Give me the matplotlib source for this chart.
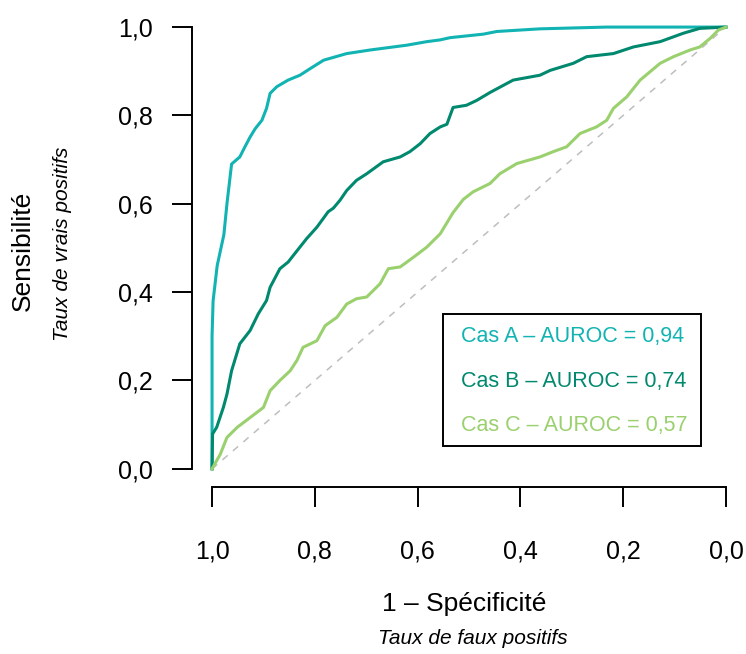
import matplotlib
matplotlib.use("Agg")
import matplotlib.pyplot as plt
from matplotlib.patches import Rectangle

plt.rcParams['font.family'] = ['Liberation Sans', 'DejaVu Sans']

# ROC curves (specificity, sensitivity)
spec_a = [1.0, 1.0, 0.998, 0.990, 0.977, 0.971, 0.965, 0.962, 0.946, 0.936, 0.926,
          0.916, 0.903, 0.894, 0.887, 0.874, 0.852, 0.829, 0.809, 0.783, 0.738,
          0.693, 0.621, 0.582, 0.556, 0.537, 0.472, 0.446, 0.362, 0.232, 0.0]
sens_a = [0.0, 0.30, 0.38, 0.46, 0.53, 0.60, 0.66, 0.69, 0.706, 0.729, 0.751,
          0.770, 0.789, 0.816, 0.850, 0.865, 0.880, 0.891, 0.906, 0.925, 0.940,
          0.948, 0.959, 0.967, 0.971, 0.976, 0.984, 0.990, 0.996, 1.0, 1.0]

spec_b = [1.0, 0.999, 0.991, 0.978, 0.971, 0.962, 0.946, 0.926, 0.910, 0.894, 0.887,
          0.868, 0.852, 0.829, 0.816, 0.796, 0.774, 0.764, 0.751, 0.738, 0.719,
          0.699, 0.667, 0.634, 0.615, 0.595, 0.576, 0.556, 0.543, 0.531, 0.505,
          0.485, 0.459, 0.414, 0.362, 0.342, 0.297, 0.271, 0.219, 0.180, 0.128,
          0.083, 0.051, 0.0]
sens_b = [0.0, 0.079, 0.094, 0.139, 0.169, 0.222, 0.283, 0.313, 0.351, 0.381, 0.411,
          0.453, 0.468, 0.502, 0.521, 0.547, 0.582, 0.590, 0.608, 0.630, 0.653,
          0.668, 0.695, 0.706, 0.718, 0.736, 0.759, 0.774, 0.780, 0.818, 0.823,
          0.834, 0.852, 0.880, 0.891, 0.902, 0.918, 0.933, 0.940, 0.955, 0.967,
          0.986, 0.997, 1.0]

spec_c = [1.0, 0.984, 0.971, 0.951, 0.926, 0.900, 0.887, 0.868, 0.848, 0.835, 0.823,
          0.796, 0.780, 0.757, 0.738, 0.719, 0.699, 0.673, 0.657, 0.634, 0.608,
          0.582, 0.556, 0.531, 0.511, 0.492, 0.459, 0.440, 0.407, 0.362, 0.336,
          0.310, 0.284, 0.252, 0.232, 0.219, 0.193, 0.167, 0.128, 0.102, 0.070,
          0.051, 0.031, 0.015, 0.0]
sens_c = [0.0, 0.033, 0.071, 0.094, 0.116, 0.139, 0.177, 0.200, 0.222, 0.245, 0.275,
          0.290, 0.324, 0.343, 0.373, 0.385, 0.389, 0.419, 0.453, 0.457, 0.479,
          0.502, 0.532, 0.580, 0.610, 0.627, 0.646, 0.668, 0.691, 0.706, 0.718,
          0.729, 0.759, 0.774, 0.789, 0.816, 0.842, 0.880, 0.918, 0.933, 0.948,
          0.955, 0.974, 0.993, 1.0]

labels = ["Cas A \u2013 AUROC = 0,94", "Cas B \u2013 AUROC = 0,74", "Cas C \u2013 AUROC = 0,57"]
colors = ["#12B3B3", "#00896F", "#9AD06E"]
ticks = [0.0, 0.2, 0.4, 0.6, 0.8, 1.0]
tick_labels = ["0,0", "0,2", "0,4", "0,6", "0,8", "1,0"]

W, H = 746, 654
fig = plt.figure(figsize=(W / 100, H / 100), dpi=100)
ax = fig.add_axes([191.5 / W, (H - 486.5) / H, 555 / W, (486.5 - 9.4) / H])

# chance line
ax.plot([1, 0], [0, 1], color="#BEBEBE", lw=1.1, linestyle=(0, (4.5, 4.5)))

curves = [(spec_a, sens_a), (spec_b, sens_b), (spec_c, sens_c)]
for (sp, se), col in zip(curves, colors):
    ax.plot(sp, se, color=col, lw=2.2, solid_joinstyle="round")

ax.set_xlim(1.04, -0.04)
ax.set_ylim(-0.04, 1.04)
ax.set_xticks(ticks)
ax.set_xticklabels(tick_labels)
ax.set_yticks(ticks)
ax.set_yticklabels(tick_labels)

for side in ["top", "right"]:
    ax.spines[side].set_visible(False)
ax.spines["left"].set_bounds(0, 1)
ax.spines["bottom"].set_bounds(0, 1)
for side in ["left", "bottom"]:
    ax.spines[side].set_linewidth(1.4)

ax.tick_params(axis="both", length=14.4, width=1.4, labelsize=18)
ax.tick_params(axis="y", pad=13.7)
ax.tick_params(axis="x", pad=24)

# axis titles
fig.text(464 / W, 1 - 610.5 / H, "1 \u2013 Sp\u00e9cificit\u00e9", fontsize=19,
         ha="center", va="baseline")
fig.text(473 / W, 1 - 644.5 / H, "Taux de faux positifs", fontsize=15,
         style="italic", ha="center", va="baseline")
fig.text(23 / W, 1 - 250.8 / H, "Sensibilit\u00e9", fontsize=19, rotation=90,
         ha="center", va="center")
fig.text(62 / W, 1 - 244.2 / H, "Taux de vrais positifs", fontsize=15,
         style="italic", rotation=90, ha="center", va="center")

# legend box
box = Rectangle((443.3 / W, 1 - 446 / H), (700.7 - 443.3) / W, (446 - 314) / H,
                transform=fig.transFigure, fill=False, edgecolor="black", lw=1.4)
fig.patches.append(box)
for lab, col, yb in zip(labels, colors, [341.7, 387.3, 431.0]):
    fig.text(460.7 / W, 1 - yb / H, lab, color=col, fontsize=15.5,
             ha="left", va="baseline")

fig.savefig("out.png", dpi=100)
